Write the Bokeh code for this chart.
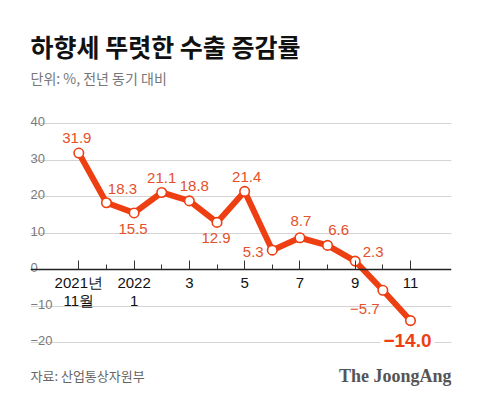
from bokeh.plotting import figure
from bokeh.models import Range1d, Grid, FixedTicker, LinearAxis, ColumnDataSource
from bokeh.embed import file_html
from bokeh.resources import INLINE
from bokeh.core.properties import value

# ---- data ----
months = ["2021-11", "2021-12", "2022-01", "2022-02", "2022-03", "2022-04", "2022-05",
          "2022-06", "2022-07", "2022-08", "2022-09", "2022-10", "2022-11"]
rates = [31.9, 18.3, 15.5, 21.1, 18.8, 12.9, 21.4, 5.3, 8.7, 6.6, 2.3, -5.7, -14.0]
x_tick_pos = [0, 2, 4, 6, 8, 10, 12]
x_tick_line1 = ["2021년", "2022", "3", "5", "7", "9", "11"]
x_tick_line2 = ["11월", "1", "", "", "", "", ""]
y_ticks = [40, 30, 20, 10, 0, -10, -20]

title = "하향세 뚜렷한 수출 증감률"
subtitle = "단위: %, 전년 동기 대비"
source_note = "자료: 산업통상자원부"
brand = "The JoongAng"

# label placement (style, screen px)
label_dx = [-2, 16, -1, 0, 5, -1, 2, -19, 1, 11, 18, -18, -3]
label_dy = [-15, -14, 16, -14, -15, 16, -14, 2, -17, -15, -9, 19, 20]

ORANGE = "#EE3F12"
LABEL = "#E4502A"

# ---- geometry ----
FRAME_LEFT, FRAME_W, FRAME_H = 30, 421, 390
ZERO_PX, UNIT_PX = 269.0, 3.65          # pixel row of 0 and px per unit
FIRST_PX, STEP_PX = 78.3, 27.64         # pixel column of first month and month step

def py(px):  # page pixel row -> data y
    return (ZERO_PX - px) / UNIT_PX

x_start = (FRAME_LEFT - FIRST_PX) / STEP_PX
x_end = x_start + FRAME_W / STEP_PX

p = figure(frame_width=FRAME_W, frame_height=FRAME_H, output_backend="svg", toolbar_location=None,
           x_axis_type=None, y_axis_type=None,
           x_range=Range1d(x_start, x_end), y_range=Range1d(py(FRAME_H), py(0)),
           min_border_left=FRAME_LEFT, min_border_right=13, min_border_top=0, min_border_bottom=4)
p.outline_line_color = None
p.background_fill_color = "white"
p.border_fill_color = "white"

grid = Grid(dimension=1, ticker=FixedTicker(ticks=[t for t in y_ticks if t != 0]),
            grid_line_color="#d4d4d4", grid_line_width=1)
p.add_layout(grid)

xaxis = LinearAxis(fixed_location=0,
                   ticker=FixedTicker(ticks=x_tick_pos,
                                      minor_ticks=[i for i in range(len(months)) if i not in x_tick_pos]),
                   major_label_overrides={k: "" for k in x_tick_pos})
xaxis.axis_line_color = "#222222"
xaxis.axis_line_width = 1.5
xaxis.major_tick_in = 9
xaxis.major_tick_out = 0
xaxis.minor_tick_in = 5
xaxis.minor_tick_out = 0
xaxis.major_tick_line_color = "#333333"
xaxis.minor_tick_line_color = "#333333"
xaxis.major_label_standoff = 0
p.add_layout(xaxis, "below")

# x tick labels (two rows)
xl = ColumnDataSource(dict(x=x_tick_pos, y=[0] * len(x_tick_pos), t1=x_tick_line1, t2=x_tick_line2))
for col, off in (("t1", 13), ("t2", 31)):
    p.text(x="x", y="y", text=col, source=xl, y_offset=off, text_font=value("Liberation Sans"),
           text_font_size="15px", text_color="#111111", text_align="center", text_baseline="middle")

# y tick labels
ysrc = ColumnDataSource(dict(x=[x_start] * len(y_ticks), y=y_ticks,
                             t=[str(v).replace("-", "\u2212") for v in y_ticks]))
p.text(x="x", y="y", text="t", source=ysrc, text_font=value("Liberation Sans"),
       text_font_size="13px", text_color="#7a7a7a", text_align="left",
       text_baseline="alphabetic", y_offset=-2)

xs = list(range(len(months)))
p.line(xs, rates, line_color=ORANGE, line_width=6, line_join="round", line_cap="round")
p.scatter(xs, rates, size=9.5, fill_color="white", line_color=ORANGE, line_width=1.6)

lab = ColumnDataSource(dict(x=xs[:-1], y=rates[:-1],
                            t=[f"{v:.1f}".replace("-", "\u2212") for v in rates[:-1]],
                            dx=label_dx[:-1], dy=label_dy[:-1]))
p.text(x="x", y="y", text="t", source=lab, x_offset="dx", y_offset="dy",
       text_font=value("Liberation Sans"), text_font_size="15px", text_color=LABEL,
       text_align="center", text_baseline="middle")

last = ColumnDataSource(dict(x=[xs[-1]], y=[rates[-1]],
                             t=[f"{rates[-1]:.1f}".replace("-", "\u2212")]))
p.text(x="x", y="y", text="t", source=last, x_offset=label_dx[-1], y_offset=label_dy[-1],
       text_font=value("Liberation Sans"), text_font_size="19px", text_font_style="bold",
       text_color=ORANGE, text_align="center", text_baseline="middle",
       background_fill_color="white", padding=3)

# title block and footer
p.text(x=[x_start], y=[py(45)], text=[title], text_font=value("Noto Sans CJK KR"),
       text_font_style="bold", text_font_size="25px", text_color="#111111",
       text_align="left", text_baseline="middle")
p.text(x=[x_start], y=[py(77)], text=[subtitle], text_font=value("Noto Sans CJK KR"),
       text_font_size="14px", text_color="#777777", text_align="left", text_baseline="middle")
p.text(x=[x_start], y=[py(375)], text=[source_note], text_font=value("Noto Sans CJK KR"),
       text_font_size="13px", text_color="#666666", text_align="left", text_baseline="middle")
p.text(x=[x_end], y=[py(375)], text=[brand], text_font=value("Liberation Serif"),
       text_font_style="bold", text_font_size="18px", text_color="#555555",
       text_align="right", text_baseline="middle")

open("out.html", "w").write(file_html(p, INLINE))
